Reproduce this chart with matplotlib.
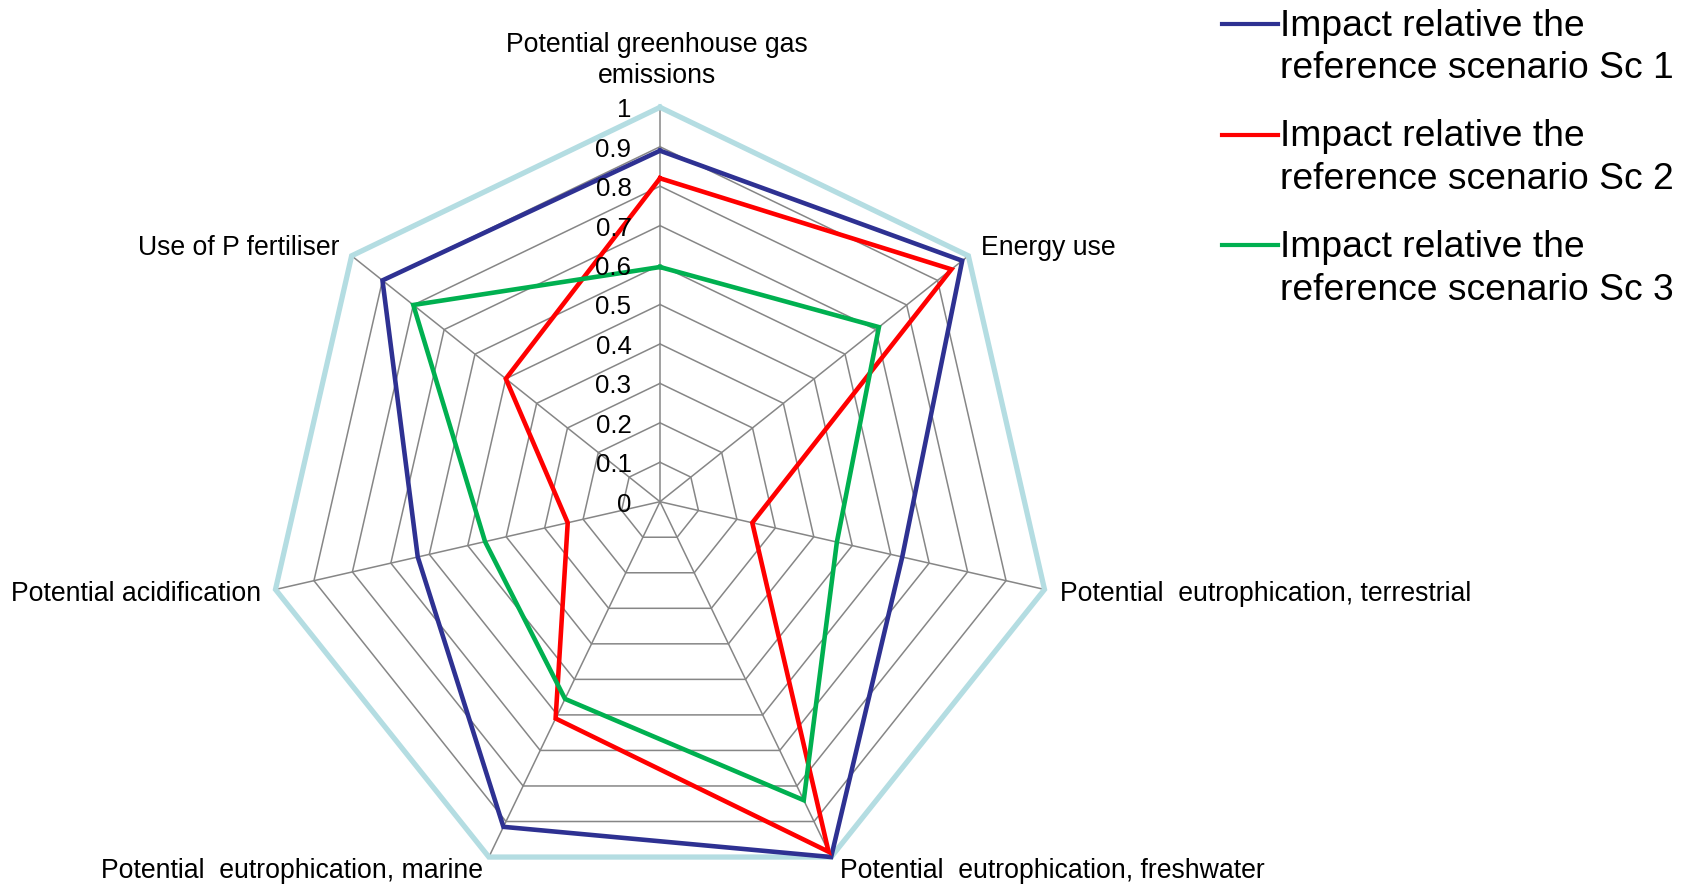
import numpy as np
import matplotlib
matplotlib.use("Agg")
import matplotlib.pyplot as plt
from matplotlib.lines import Line2D

plt.rcParams['font.family'] = ['Liberation Sans', 'DejaVu Sans']

categories = ['Potential greenhouse gas\nemissions', 'Energy use',
              'Potential  eutrophication, terrestrial',
              'Potential  eutrophication, freshwater',
              'Potential  eutrophication, marine',
              'Potential acidification', 'Use of P fertiliser']
sc1 = [0.89, 0.98, 0.63, 1.0, 0.915, 0.63, 0.90]
sc2 = [0.82, 0.945, 0.24, 0.985, 0.61, 0.24, 0.50]
sc3 = [0.595, 0.71, 0.46, 0.84, 0.555, 0.455, 0.80]
series_names = ['Impact relative the\nreference scenario Sc 1',
                'Impact relative the\nreference scenario Sc 2',
                'Impact relative the\nreference scenario Sc 3']
tick_values = [0, 0.1, 0.2, 0.3, 0.4, 0.5, 0.6, 0.7, 0.8, 0.9, 1.0]
tick_labels = ['0', '0.1', '0.2', '0.3', '0.4', '0.5', '0.6', '0.7', '0.8', '0.9', '1']

colors = ['#2E3192', '#FF0000', '#00B050']
grid_color = '#868686'
outer_color = '#B4DDE2'

W, H = 1690, 884
fig = plt.figure(figsize=(W / 100, H / 100), dpi=100)
cx, cy, R = 660, 501.7, 394.4
ax = fig.add_axes([(cx - R) / W, (H - cy - R) / H, 2 * R / W, 2 * R / H],
                  projection='polar')
ax.set_theta_zero_location('N')
ax.set_theta_direction(-1)
ax.set_ylim(0, 1)
ax.set_axis_off()

n = len(categories)
theta = np.linspace(0, 2 * np.pi, n, endpoint=False)
theta_c = np.append(theta, theta[0])

# grid rings
for v in tick_values[1:-1]:
    ax.plot(theta_c, [v] * (n + 1), color=grid_color, lw=1.1, zorder=1, clip_on=False)
# spokes
for t in theta:
    ax.plot([t, t], [0, 1], color=grid_color, lw=1.1, zorder=1, clip_on=False)
# outer ring
ax.plot(theta_c, [1.0] * (n + 1), color=outer_color, lw=3.8, zorder=2,
        clip_on=False, solid_joinstyle='miter')

for vals, c in zip([sc1, sc2, sc3], colors):
    ax.plot(theta_c, list(vals) + [vals[0]], color=c, lw=3.3, zorder=3,
            clip_on=False, solid_joinstyle='miter')

# radial tick labels
for v, lab in zip(tick_values, tick_labels):
    ax.annotate(lab, xy=(0, v), xytext=(-28.5, -10), textcoords='offset pixels',
                ha='right', va='baseline', fontsize=18.6, color='black',
                annotation_clip=False)

# category labels (baseline of last line anchored)
offsets = [(-3, 24, 'center'), (13, 1, 'left'), (15, -11.5, 'left'),
           (9, -21, 'left'), (-6, -21, 'right'), (-14, -11.5, 'right'),
           (-12, 1, 'right')]
for t, lab, (dx, dy, ha) in zip(theta, categories, offsets):
    ax.annotate(lab, xy=(t, 1), xytext=(dx, dy), textcoords='offset pixels',
                ha=ha, va='baseline', fontsize=19.2, color='black',
                multialignment='center', linespacing=1.25,
                annotation_clip=False)

# legend (drawn in figure coordinates)
for i, (name, c) in enumerate(zip(series_names, colors)):
    ly = 24 + i * 110.5
    fig.add_artist(Line2D([1222 / W, 1278 / W], [(H - ly) / H] * 2,
                          transform=fig.transFigure, color=c, lw=3.0))
    fig.text(1280 / W, (H - (78.5 + i * 110.5)) / H, name, ha='left',
             va='baseline', fontsize=26.8, color='black', linespacing=1.28)

fig.savefig('out.png', dpi=100)
